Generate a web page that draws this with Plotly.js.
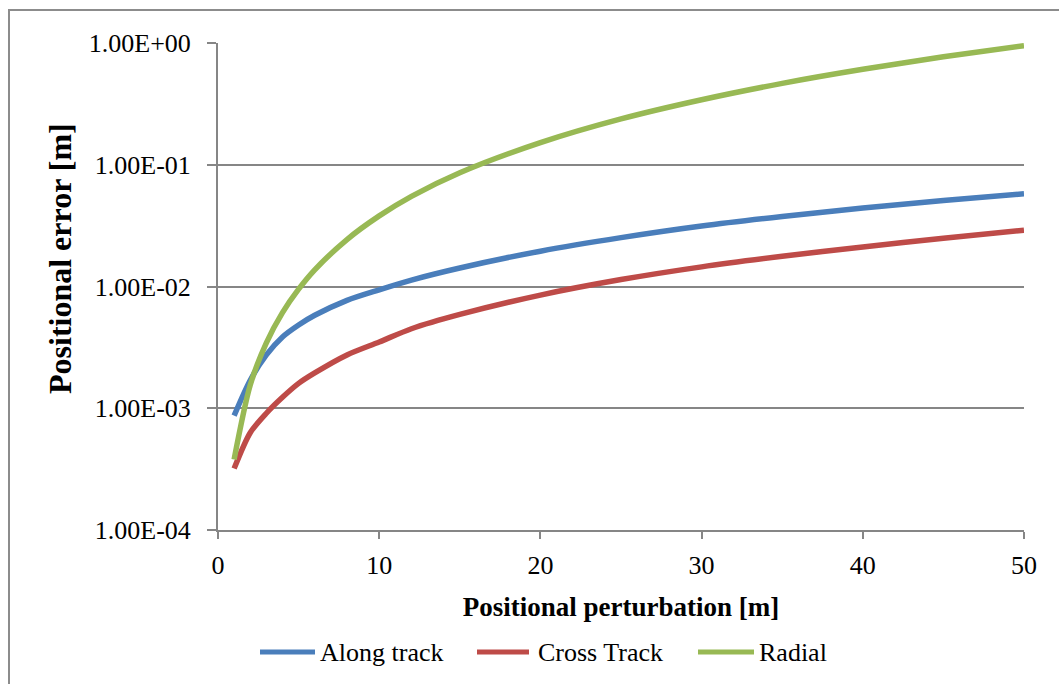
<!DOCTYPE html>
<html>
<head>
<meta charset="utf-8">
<script src="https://cdn.plot.ly/plotly-3.0.1.min.js"></script>
<style>
  html, body { margin: 0; padding: 0; background: #ffffff; }
  #frame { position: absolute; left: 8px; top: 9px; width: 1060px; height: 690px;
           border-left: 2px solid #8c8c8c; border-top: 2px solid #8c8c8c; }
  #chart { position: absolute; left: 0; top: 0; width: 1059px; height: 684px; }
</style>
</head>
<body>
<div id="frame"></div>
<div id="chart"></div>
<script>
// Positional perturbation [m]
const perturbation = [1, 2, 3, 4, 5, 6, 8, 10, 12, 15, 20, 25, 30, 35, 40, 45, 50];
// Positional error [m]
const alongTrack = [0.00087, 0.0017, 0.00274, 0.00385, 0.00483, 0.0058, 0.0077, 0.0094, 0.0113, 0.0142, 0.0195, 0.0252, 0.0314, 0.0376, 0.0441, 0.0508, 0.0577];
const crossTrack = [0.00032, 0.00063, 0.00091, 0.00123, 0.0016, 0.00195, 0.00274, 0.0035, 0.0045, 0.0059, 0.0085, 0.0114, 0.0145, 0.0177, 0.0211, 0.0249, 0.0290];
const radial     = [0.00038, 0.00155, 0.00345, 0.0061, 0.0095, 0.0137, 0.0243, 0.038, 0.055, 0.086, 0.152, 0.238, 0.342, 0.466, 0.608, 0.77, 0.95];

const seriesNames = ["Along track", "Cross Track", "Radial"];
const yTickVals = [1e-4, 1e-3, 1e-2, 1e-1, 1];
const yTickText = ["1.00E-04", "1.00E-03", "1.00E-02", "1.00E-01", "1.00E+00"];
const xTickVals = [0, 10, 20, 30, 40, 50];

const FONT = "Liberation Serif, Times New Roman, serif";
const colors = ["#4A7EBB", "#BE4B48", "#98B954"];
const ys = [alongTrack, crossTrack, radial];

const traces = ys.map((y, i) => ({
  x: perturbation,
  y: y,
  name: seriesNames[i],
  type: "scatter",
  mode: "lines",
  showlegend: false,
  line: { color: colors[i], width: 5.5, shape: "spline", smoothing: 0.8 }
}));

// Custom legend (long swatches like the original), pixel layout -> paper coords
const PL = 218, PR = 1024, PT = 43, PB = 530;
const px = v => (v - PL) / (PR - PL);
const py = v => (PB - v) / (PB - PT);
const legendSwatch = [[260, 315], [477, 529], [698, 754]];
const legendTextX = [318, 536, 757];
const legendY = 652;

const shapes = legendSwatch.map((s, i) => ({
  type: "line", xref: "paper", yref: "paper",
  x0: px(s[0]), x1: px(s[1]), y0: py(legendY), y1: py(legendY),
  line: { color: colors[i], width: 5 }
}));
const annotations = seriesNames.map((n, i) => ({
  text: n, xref: "paper", yref: "paper",
  x: px(legendTextX[i]), y: py(legendY),
  xanchor: "left", yanchor: "middle", showarrow: false,
  font: { family: FONT, size: 26, color: "#000000" }
}));
annotations.push({
  text: "<b>Positional error [m]</b>",
  xref: "paper", yref: "paper",
  x: px(60), y: py(259),
  xanchor: "center", yanchor: "middle",
  textangle: -90,
  showarrow: false,
  font: { family: FONT, size: 32, color: "#000000" }
});

const layout = {
  width: 1059,
  height: 684,
  margin: { l: 218, r: 35, t: 43, b: 154 },
  paper_bgcolor: "rgba(0,0,0,0)",
  plot_bgcolor: "#ffffff",
  font: { family: FONT, size: 26, color: "#000000" },
  showlegend: false,
  xaxis: {
    range: [0, 50],
    tickvals: xTickVals,
    ticktext: xTickVals.map(String),
    showgrid: false,
    zeroline: false,
    showline: true,
    linecolor: "#868686",
    linewidth: 2,
    ticks: "outside",
    ticklen: 7,
    tickwidth: 2,
    tickcolor: "#868686",
    ticklabelstandoff: 4,
    tickfont: { family: FONT, size: 26 },
    title: { text: "<b>Positional perturbation [m]</b>", font: { family: FONT, size: 27 }, standoff: 18 }
  },
  yaxis: {
    type: "log",
    range: [-4, 0],
    tickvals: yTickVals,
    ticktext: yTickText,
    showgrid: true,
    gridcolor: "#868686",
    gridwidth: 2,
    zeroline: false,
    showline: true,
    linecolor: "#868686",
    linewidth: 2,
    ticks: "outside",
    ticklen: 9,
    tickwidth: 2,
    tickcolor: "#868686",
    ticklabelstandoff: 11,
    tickfont: { family: FONT, size: 26 }
  },
  shapes: shapes,
  annotations: annotations
};

Plotly.newPlot("chart", traces, layout, { displayModeBar: false, staticPlot: true });
</script>
</body>
</html>
